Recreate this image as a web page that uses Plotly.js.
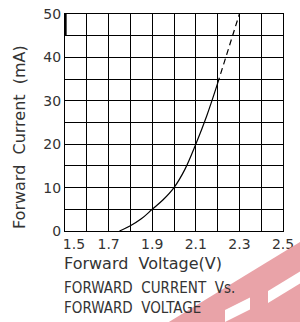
<!DOCTYPE html>
<html>
<head>
<meta charset="utf-8">
<script src="https://cdn.plot.ly/plotly-3.0.1.min.js"></script>
<style>html,body{margin:0;padding:0;background:#fff;}</style>
</head>
<body>
<div id="chart" style="width:300px;height:322px;"></div>
<script>
// Measured curve (solid part)
var vSolid = [1.75, 1.8, 1.85, 1.9, 1.95, 2.0, 2.05, 2.1, 2.15, 2.2];
var iSolid = [0, 1.2, 2.8, 5, 7.2, 10, 14.2, 20, 26.5, 34];
// Extrapolated (dashed part)
var vDash = [2.2, 2.25, 2.3];
var iDash = [34, 42, 50];
// Tick labels
var xTicks = [1.5, 1.7, 1.9, 2.1, 2.3, 2.5];
var xTickText = ['1.5', '1.7', '1.9', '2.1', '2.3', '2.5'];
var yTicks = [0, 10, 20, 30, 40, 50];
var yTickText = ['0', '10', '20', '30', '40', '50'];
var xTitle = 'Forward  Voltage(V)';
var yTitle = 'Forward  Current  (mA)';
var caption1 = 'FORWARD  CURRENT  Vs.';
var caption2 = 'FORWARD  VOLTAGE';

var FONT = 'DejaVu Sans, sans-serif';
var FONT_C = 'DejaVu Sans Condensed, DejaVu Sans, sans-serif';
var TXT = '#333';
var NB = '\u00a0';

function keepSpaces(s) { return s.replace(/ /g, NB); }
// the first tick label starts at the plot's left edge, as in the original
var xTickShown = xTickText.map(function (t, i) {
  return i === 0 ? NB + NB + NB + NB + t : t;
});

var traces = [
  {x: vSolid, y: iSolid, mode: 'lines', line: {color: '#000', width: 1.2, shape: 'spline'}, hoverinfo: 'skip'},
  {x: vDash, y: iDash, mode: 'lines', line: {color: '#000', width: 1.2, dash: '6px,4px'}, hoverinfo: 'skip'}
];

var wm = '#e9a3a8';
var layout = {
  width: 300, height: 322,
  margin: {l: 65, r: 17, t: 14, b: 91, pad: 0},
  paper_bgcolor: '#fff', plot_bgcolor: '#fff',
  showlegend: false,
  font: {family: FONT, size: 14, color: TXT},
  xaxis: {
    range: [1.5, 2.5], tickvals: xTicks, ticktext: xTickShown,
    showgrid: true, gridcolor: '#000', gridwidth: 1,
    minor: {dtick: 0.1, tick0: 1.5, showgrid: true, gridcolor: '#000', gridwidth: 1},
    showline: true, mirror: true, linecolor: '#000', linewidth: 1,
    ticks: '', zeroline: false, fixedrange: true,
    tickfont: {family: FONT, size: 14, color: TXT}
  },
  yaxis: {
    range: [0, 50], tickvals: yTicks, ticktext: yTickText,
    showgrid: true, gridcolor: '#000', gridwidth: 1,
    minor: {dtick: 5, tick0: 0, showgrid: true, gridcolor: '#000', gridwidth: 1},
    showline: true, mirror: true, linecolor: '#000', linewidth: 1,
    ticks: '', zeroline: false, fixedrange: true,
    tickfont: {family: FONT, size: 14, color: TXT}
  },
  shapes: [
    {type: 'path', xref: 'paper', yref: 'paper', layer: 'above',
     path: 'M 0.3899 -0.4724 L 1.1697 0.0055 L 1.1697 -0.5023 L 0.3899 -0.5023 Z',
     fillcolor: wm, line: {width: 0}},
    {type: 'path', xref: 'paper', yref: 'paper', layer: 'above',
     path: 'M 0.9312 -0.2765 L 1.1697 -0.1304 L 1.1697 -0.1857 L 0.9312 -0.3318 Z',
     fillcolor: '#fff', line: {width: 0}},
    {type: 'path', xref: 'paper', yref: 'paper', layer: 'above',
     path: 'M 0.7339 -0.3641 L 0.8486 -0.3065 L 0.8486 -0.3618 L 0.7339 -0.4194 Z',
     fillcolor: '#fff', line: {width: 0}},
    {type: 'line', xref: 'paper', yref: 'y', x0: 0.003, x1: 0.003, y0: 45, y1: 50,
     line: {color: '#000', width: 2}}
  ],
  annotations: [
    {text: keepSpaces(yTitle), textangle: -90, xref: 'paper', yref: 'paper', x: -0.211, y: 0.433,
     xanchor: 'center', yanchor: 'middle', showarrow: false, font: {family: FONT, size: 16, color: TXT}},
    {text: keepSpaces(xTitle), xref: 'paper', yref: 'paper', x: -0.012, y: -0.152,
     xanchor: 'left', yanchor: 'middle', showarrow: false, font: {family: FONT, size: 16, color: TXT}},
    {text: keepSpaces(caption1), xref: 'paper', yref: 'paper', x: -0.012, y: -0.262,
     xanchor: 'left', yanchor: 'middle', showarrow: false, font: {family: FONT_C, size: 15, color: TXT}},
    {text: keepSpaces(caption2), xref: 'paper', yref: 'paper', x: -0.012, y: -0.357,
     xanchor: 'left', yanchor: 'middle', showarrow: false, font: {family: FONT_C, size: 15, color: TXT}}
  ]
};

Plotly.newPlot('chart', traces, layout, {staticPlot: true, displayModeBar: false});
</script>
</body>
</html>
